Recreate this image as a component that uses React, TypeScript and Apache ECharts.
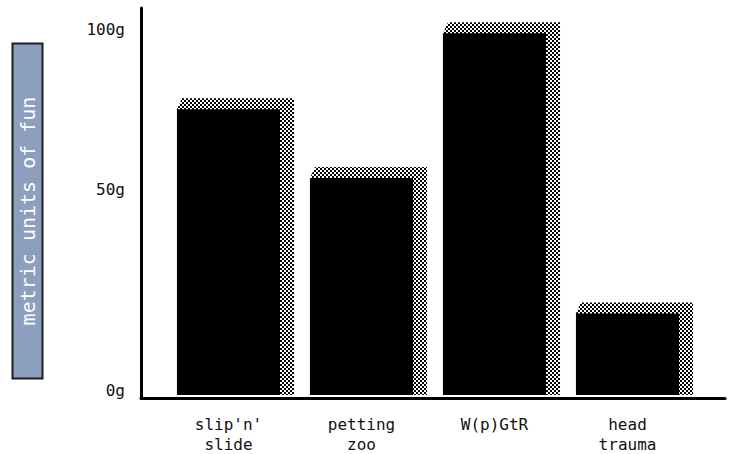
import React, { useEffect, useRef } from "react";
import * as echarts from "echarts";

const categories = ["slip'n'\nslide", "petting\nzoo", "W(p)GtR", "head\ntrauma"];
const funValues = [79, 60, 100, 22.5];
const yTickValues = [0, 55, 99];
const yTickLabels = ["0g", "50g", "100g"];
const yAxisTitle = "metric units of fun";
const Y_MAX = 107;

const FONT = "'DejaVu Sans Mono', 'Liberation Mono', monospace";

const checkerSvg =
  "<svg xmlns='http://www.w3.org/2000/svg' width='4' height='4'>" +
  "<rect width='4' height='4' fill='white'/>" +
  "<rect width='2' height='2' fill='black'/>" +
  "<rect x='2' y='2' width='2' height='2' fill='black'/></svg>";
const checkerUrl = "data:image/svg+xml;charset=utf-8," + encodeURIComponent(checkerSvg);

export default function App() {
  const ref = useRef<HTMLDivElement>(null);
  useEffect(() => {
    if (!ref.current) return;
    const chart = echarts.init(ref.current, null, { renderer: "svg" });
    const pattern: any = { image: checkerUrl, repeat: "repeat", imageWidth: 4, imageHeight: 4 };
    chart.setOption({
      animation: false,
      backgroundColor: "#ffffff",
      grid: [
        { left: 141, right: 5, top: 8, bottom: 56 },
        { left: 162, right: 36, top: 8, bottom: 56 },
      ],
      xAxis: [
        {
          type: "value",
          gridIndex: 0,
          min: 0,
          max: 1,
          z: 5,
          axisLine: { show: true, onZero: false, lineStyle: { color: "#000", width: 3 } },
          axisTick: { show: false },
          axisLabel: { show: false },
          splitLine: { show: false },
        },
        {
          type: "category",
          gridIndex: 1,
          data: categories,
          axisLine: { show: false },
          axisTick: { show: false },
          splitLine: { show: false },
          axisLabel: {
            color: "#111",
            fontFamily: FONT,
            fontSize: 16,
            lineHeight: 20,
            margin: 19,
            interval: 0,
          },
        },
      ],
      yAxis: [
        {
          type: "value",
          gridIndex: 0,
          min: 0,
          max: Y_MAX,
          z: 5,
          axisLine: { show: true, lineStyle: { color: "#000", width: 3 } },
          axisTick: { show: false },
          splitLine: { show: false },
          axisLabel: {
            customValues: yTickValues,
            formatter: (v: number) => {
              const i = yTickValues.indexOf(v);
              return i >= 0 ? yTickLabels[i] : "";
            },
            color: "#111",
            fontFamily: FONT,
            fontSize: 16,
            lineHeight: 16,
            verticalAlign: "bottom",
            margin: 16,
          },
        },
        {
          type: "value",
          gridIndex: 1,
          min: 0,
          max: Y_MAX,
          show: false,
        },
      ],
      graphic: [
        {
          type: "text",
          x: 27.5,
          y: 211,
          rotation: Math.PI / 2,
          style: {
            text: yAxisTitle,
            fill: "#ffffff",
            font: `20px ${FONT}`,
            align: "center",
            verticalAlign: "middle",
            lineHeight: 20,
            backgroundColor: "#8c9fbe",
            borderColor: "#1e1e1e",
            borderWidth: 2,
            padding: [4, 52],
          },
        },
      ],
      series: [
        {
          type: "custom",
          xAxisIndex: 1,
          yAxisIndex: 1,
          z: 1,
          data: funValues.map((v, i) => [i, v]),
          encode: { x: 0, y: 1 },
          renderItem: (params: any, api: any) => {
            const idx = api.value(0);
            const v = api.value(1);
            const top = api.coord([idx, v]);
            const base = api.coord([idx, 0]);
            const band = api.size([1, 0])[0];
            const w = band * 0.775;
            const x0 = top[0] - w / 2;
            const x1 = top[0] + w / 2;
            const yt = top[1];
            const yb = base[1];
            return {
              type: "group",
              children: [
                {
                  type: "polygon",
                  shape: {
                    points: [
                      [x0, yt],
                      [x0 + 5, yt - 11],
                      [x1 + 14, yt - 11],
                      [x1 + 14, yb],
                      [x0, yb],
                    ],
                  },
                  style: { fill: pattern },
                },
                {
                  type: "rect",
                  shape: { x: x0, y: yt, width: w, height: yb - yt },
                  style: { fill: "#000" },
                },
              ],
            };
          },
        },
      ],
    });
    return () => chart.dispose();
  }, []);
  return (
    <div
      ref={ref}
      style={{ position: "fixed", left: 0, top: 0, width: 730, height: 454 }}
    />
  );
}
